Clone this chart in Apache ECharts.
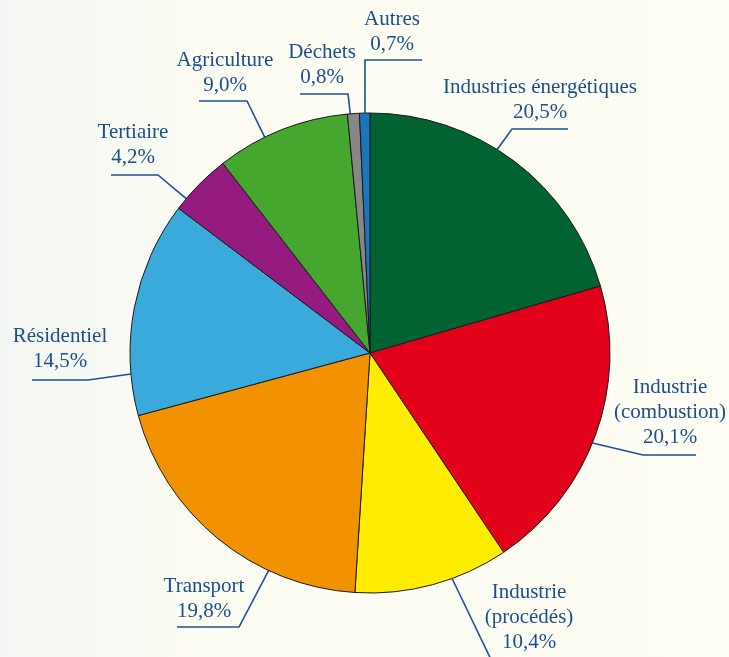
<!DOCTYPE html>
<html>
<head>
<meta charset="utf-8">
<script src="https://cdn.jsdelivr.net/npm/echarts@6/dist/echarts.min.js"></script>
<style>
  html, body { margin: 0; padding: 0; }
  body {
    width: 729px; height: 657px; overflow: hidden;
    background: linear-gradient(to right, #f3f6f2 0%, #f7f9f3 12%, #fcfcf3 28%, #fefef4 100%);
  }
  #main { width: 729px; height: 657px; }
</style>
</head>
<body>
<div id="main"></div>
<script>
// secteurs (sens horaire depuis le haut)
var categories = ['Industries énergétiques', 'Industrie\n(combustion)', 'Industrie\n(procédés)', 'Transport',
    'Résidentiel', 'Tertiaire', 'Agriculture', 'Déchets', 'Autres'];
var shares = [20.5, 20.1, 10.4, 19.8, 14.5, 4.2, 9.0, 0.8, 0.7];
var colors = ['#006331', '#e2001a', '#ffec00', '#f39200', '#3aaadc', '#951b81', '#45a72e', '#878787', '#1a75bb'];

// placement des étiquettes : centre du texte, coude, fin du trait, angle d'accroche (deg depuis le haut)
var labelPos = [[540, 100], [670, 412], [529, 617], [204, 599], [60, 349], [133, 145], [225, 73], [322, 65], [392, 32]];
var labelElbow = [[512, 129], [643, 455], null, [239, 627], [88, 380], [158, 175], [247, 101], [348, 94], [365, 60]];
var labelEnd = [[568, 129], [696, 455], [497, 672], [177, 627], [32, 380], [111, 175], [199, 101], [300, 94], [422, 60]];
var attachAngle = [32, 112, 160, 205, 265, 310, 334, 355.3, 358.8];

var cx = 370, cy = 353, r = 240;

var myChart = echarts.init(document.getElementById('main'));

var data = categories.map(function (name, i) {
    return { name: name, value: shares[i], itemStyle: { color: colors[i] } };
});

var option = {
    animation: false,
    series: [{
        type: 'pie',
        center: [cx, cy],
        radius: r,
        startAngle: 90,
        clockwise: true,
        avoidLabelOverlap: false,
        data: data,
        itemStyle: {
            borderColor: '#1a1a1a',
            borderWidth: 1
        },
        label: {
            show: true,
            fontFamily: 'Liberation Serif',
            fontSize: 21,
            lineHeight: 25,
            color: '#1c4e8e',
            align: 'center',
            formatter: function (p) {
                return p.name + '\n' + p.value.toFixed(1).replace('.', ',') + '%';
            }
        },
        labelLine: {
            show: true,
            lineStyle: { color: '#1f4f95', width: 1.6 }
        },
        labelLayout: function (params) {
            var i = params.dataIndex;
            var a = attachAngle[i] * Math.PI / 180;
            var edge = [cx + r * Math.sin(a), cy - r * Math.cos(a)];
            var pts = [edge];
            if (labelElbow[i]) pts.push(labelElbow[i]);
            pts.push(labelEnd[i]);
            return {
                x: labelPos[i][0],
                y: labelPos[i][1],
                align: 'center',
                verticalAlign: 'middle',
                labelLinePoints: pts
            };
        }
    }]
};

myChart.setOption(option);
</script>
</body>
</html>
